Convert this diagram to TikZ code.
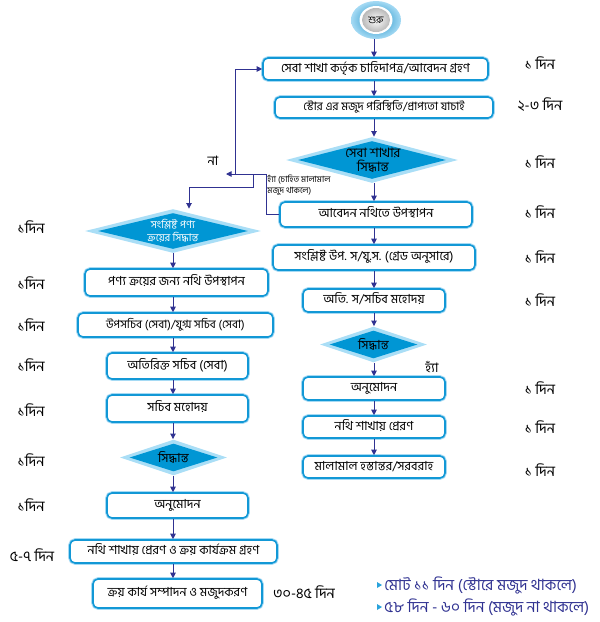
\documentclass[tikz,border=0pt]{standalone}
\usepackage{fontspec}
\setmainfont[Script=Bengali]{Hind Siliguri}
\usetikzlibrary{arrows.meta,shapes.geometric,positioning,calc}

\definecolor{boxblue}{RGB}{18,152,214}
\definecolor{glowblue}{RGB}{165,218,244}
\definecolor{dmdark}{RGB}{0,150,212}
\definecolor{dmlight}{RGB}{170,222,246}
\definecolor{linkblue}{RGB}{48,50,145}
\definecolor{bulletblue}{RGB}{41,163,220}

\begin{document}
\begin{tikzpicture}
  [x=1pt, y=-1pt, font=\fontsize{12.5}{14}\selectfont, line width=0.9pt,
   >={Triangle[length=5.5pt,width=5.5pt]},
   box/.style={draw=boxblue, fill=white, line width=1.6pt, rounded corners=5pt,
     preaction={draw=glowblue, line width=3.6pt}, inner sep=0pt,
     text height=10pt, text depth=3.5pt},
   narrow/.style={font=\fontsize{11.5}{13}\selectfont},
   dmout/.style={diamond, fill=dmlight, inner sep=0pt},
   dmin/.style={diamond, fill=dmdark, inner sep=0pt},
   dtext/.style={align=center, inner sep=0pt},
   day/.style={font=\fontsize{14.5}{16}\selectfont, inner sep=0pt},
   arr/.style={draw=linkblue, ->},
   link/.style={draw=linkblue!85}]

\useasboundingbox (0,0) rectangle (600,622);

\coordinate (cR) at (374,0);
\coordinate (cL) at (173,0);

\node[ellipse, minimum width=50, minimum height=38, inner sep=0pt,
  inner color=boxblue!90!black, outer color=glowblue] (start) at (376,20) {};
\fill[white] (start.center) ellipse [x radius=16.5, y radius=14];
\node[ellipse, minimum width=28, minimum height=24, inner sep=0pt,
  inner color=white, outer color=gray!55, font=\fontsize{10}{11}\selectfont] (starttxt) at (start.center) {শুরু};

\node[box, minimum width=225, minimum height=22] (R1) at (375.5,69) {সেবা শাখা কর্তৃক চাহিদাপত্র/আবেদন গ্রহণ};
\node[box, narrow, minimum width=218, minimum height=21] (R2) at (384,107.5) {স্টোর এর মজুদ পরিস্থিতি/প্রাপ্যতা যাচাই};
\node[dmout, minimum width=172, minimum height=46] (dR1) at (372,160) {};
\node[dmin, minimum width=148, minimum height=38] (dR1in) at (372,160) {};
\node[dtext, font=\fontsize{13}{14}\selectfont] (dR1t) at (373,160) {সেবা শাখার\\সিদ্ধান্ত};
\node[box, minimum width=192, minimum height=25] (R3) at (376,214.5) {আবেদন নথিতে উপস্থাপন};
\node[box, minimum width=202, minimum height=25] (R4) at (374,257.5) {সংশ্লিষ্ট উপ. স/যু.স. (গ্রেড অনুসারে)};
\node[box, minimum width=142, minimum height=23] (R5) at (374,300.5) {অতি. স/সচিব মহোদয়};
\node[dmout, minimum width=107, minimum height=36] (dR2) at (373.5,344.5) {};
\node[dmin, minimum width=88, minimum height=28] (dR2in) at (373.5,344.5) {};
\node[dtext] (dR2t) at (373.5,344.5) {সিদ্ধান্ত};
\node[box, minimum width=142, minimum height=23] (R6) at (374,388.5) {অনুমোদন};
\node[box, minimum width=142, minimum height=22] (R7) at (374,427) {নথি শাখায় প্রেরণ};
\node[box, minimum width=142, minimum height=22] (R8) at (374,467) {মালামাল হস্তান্তর/সরবরাহ};

\node[dmout, minimum width=176, minimum height=44] (dL1) at (173,231) {};
\node[dmin, minimum width=150, minimum height=36] (dL1in) at (173,231) {};
\node[dtext, text=white, font=\fontsize{10.5}{12.5}\selectfont] (dL1t) at (173,231) {সংশ্লিষ্ট পণ্য\\ক্রয়ের সিদ্ধান্ত};
\node[box, minimum width=183, minimum height=27] (L1) at (176.5,282.5) {পণ্য ক্রয়ের জন্য নথি উপস্থাপন};
\node[box, narrow, minimum width=195, minimum height=24] (L2) at (175.5,325) {উপসচিব (সেবা)/যুগ্ম সচিব (সেবা)};
\node[box, minimum width=141, minimum height=26] (L3) at (177.5,366) {অতিরিক্ত সচিব (সেবা)};
\node[box, minimum width=141, minimum height=27] (L4) at (177.5,408.5) {সচিব মহোদয়};
\node[dmout, minimum width=107, minimum height=36] (dL2) at (173.5,457.5) {};
\node[dmin, minimum width=88, minimum height=28] (dL2in) at (173.5,457.5) {};
\node[dtext] (dL2t) at (173.5,457.5) {সিদ্ধান্ত};
\node[box, minimum width=141, minimum height=25] (L5) at (177.5,505.5) {অনুমোদন};
\node[box, minimum width=207, minimum height=23] (L6) at (173.5,551.5) {নথি শাখায় প্রেরণ ও ক্রয় কার্যক্রম গ্রহণ};
\node[box, minimum width=169, minimum height=29] (L7) at (177.5,593.5) {ক্রয় কার্য সম্পাদন ও মজুদকরণ};

\draw[arr] (start.south -| cR) -- (R1.north -| cR);
\foreach \a/\b in {R1/R2,R2/dR1,dR1/R3,R3/R4,R4/R5,R5/dR2,dR2/R6,R6/R7,R7/R8}
  \draw[arr] (\a.south -| cR) -- (\b.north -| cR);
\foreach \a/\b in {dL1/L1,L1/L2,L2/L3,L3/L4,L4/dL2,dL2/L5,L5/L6,L6/L7}
  \draw[arr] (\a.south -| cL) -- (\b.north -| cL);

\coordinate (jn) at (266,174);
\coordinate (naend) at (226,174);
\coordinate (upfork) at (235,174);
\coordinate (dnfork) at (253,174);
\coordinate (brL) at (189,187);
\draw[arr] (R3.west) -| (jn) -- (naend);
\draw[arr] (upfork) |- (R1.west);
\draw[arr] (dnfork) |- (brL) -- (brL |- dL1.north);

\node[day, font=\fontsize{13}{14}\selectfont] (no) at (213,161) {না};
\node[anchor=north west, align=left, inner sep=0pt, font=\fontsize{8.5}{10.5}\selectfont] (yesnote) at (267,175) {হ্যাঁ (চাহিত মালামাল\\মজুদ থাকলে)};
\node[day, font=\fontsize{13}{14}\selectfont] (yes) at (432,367) {হ্যাঁ};

\node[day] (dayR0) at (540,105) {২-৩ দিন};
\foreach \y [count=\i] in {63,162,212,257,300,388,427,470}
  \node[day] (dayR\i) at (540,\y) {১ দিন};
\foreach \y [count=\i] in {227,283,325,365,410,460,505}
  \node[day] (dayL\i) at (31,\y) {১দিন};
\node[day] (dayL0) at (32,555) {৫-৭ দিন};
\node[day] (dayLx) at (304,592) {৩০-৪৫ দিন};

\node[anchor=west, inner sep=0pt, text=linkblue, font=\fontsize{15.5}{17}\selectfont] (tot1) at (384,585) {মোট ১১ দিন (স্টোরে মজুদ থাকলে)};
\node[anchor=west, inner sep=0pt, text=linkblue, font=\fontsize{15.5}{17}\selectfont] (tot2) at (384,607) {৫৮ দিন - ৬০ দিন (মজুদ না থাকলে)};
\fill[bulletblue] ([xshift=-7pt,yshift=3pt]tot1.west) -- ++(5,3) -- ++(-5,3) -- cycle;
\fill[bulletblue] ([xshift=-7pt,yshift=3pt]tot2.west) -- ++(5,3) -- ++(-5,3) -- cycle;
\end{tikzpicture}
\end{document}
